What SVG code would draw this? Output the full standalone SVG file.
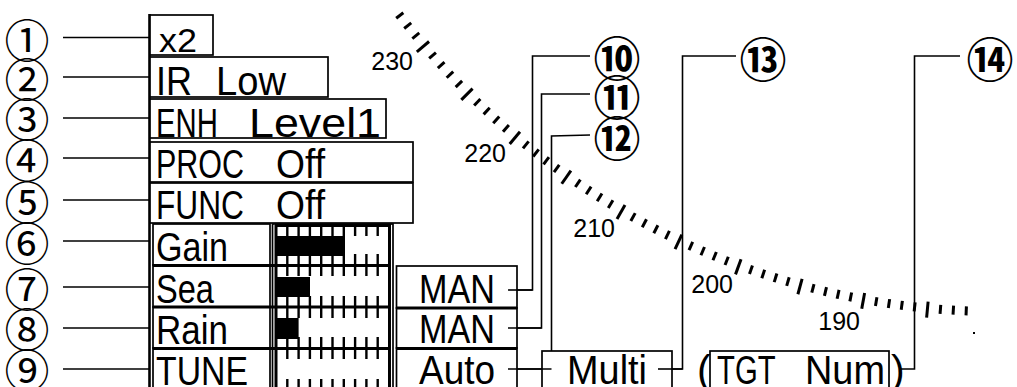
<svg xmlns="http://www.w3.org/2000/svg" width="1017" height="387" viewBox="0 0 1017 387">
<style>
.t{font-family:"Liberation Sans",Arial,sans-serif;font-size:41px;fill:#000}
.x2{font-size:33px}
.sc{font-family:"Liberation Sans",Arial,sans-serif;font-size:25px;fill:#000}
.n{font-family:"Noto Sans CJK JP","DejaVu Sans",sans-serif;font-size:45px;fill:#000;text-anchor:middle;dominant-baseline:central}
.nb{font-weight:bold;font-size:47px}
.box{fill:#fff;stroke:#000;stroke-width:1.7}
.ln{stroke:#000;stroke-width:1.6;fill:none}
.thk{stroke:#000;stroke-width:3;fill:none}
.tk{stroke:#000;stroke-width:2.4}
.rt{stroke:#000;stroke-width:3}
</style>
<defs>
<line id="s" x1="748" y1="0" x2="757" y2="0"/>
<line id="L" x1="746" y1="0" x2="762" y2="0"/>
<g id="tt">
<line x1="287.3" y1="0" x2="287.3" y2="11"/><line x1="298.6" y1="0" x2="298.6" y2="11"/><line x1="309.9" y1="0" x2="309.9" y2="11"/><line x1="321.2" y1="0" x2="321.2" y2="11"/><line x1="332.5" y1="0" x2="332.5" y2="11"/><line x1="343.8" y1="0" x2="343.8" y2="11"/><line x1="355.1" y1="0" x2="355.1" y2="11"/><line x1="366.4" y1="0" x2="366.4" y2="11"/><line x1="377.7" y1="0" x2="377.7" y2="11"/>
</g>
</defs>

<g id="range-scale" class="rt">
<g transform="translate(998 -441)">
<use href="#s" transform="rotate(92.42)"/><use href="#s" transform="rotate(93.405)"/><use href="#s" transform="rotate(94.39)"/><use href="#L" transform="rotate(95.375)"/>
<use href="#s" transform="rotate(96.36)"/><use href="#s" transform="rotate(97.345)"/><use href="#s" transform="rotate(98.33)"/><use href="#s" transform="rotate(99.315)"/><use href="#L" transform="rotate(100.3)"/>
<use href="#s" transform="rotate(101.285)"/><use href="#s" transform="rotate(102.27)"/><use href="#s" transform="rotate(103.255)"/><use href="#s" transform="rotate(104.24)"/><use href="#L" transform="rotate(105.225)"/>
<use href="#s" transform="rotate(106.21)"/><use href="#s" transform="rotate(107.195)"/><use href="#s" transform="rotate(108.18)"/><use href="#s" transform="rotate(109.165)"/><use href="#L" transform="rotate(110.15)"/>
<use href="#s" transform="rotate(111.135)"/><use href="#s" transform="rotate(112.12)"/><use href="#s" transform="rotate(113.105)"/><use href="#s" transform="rotate(114.09)"/><use href="#L" transform="rotate(115.075)"/>
<use href="#s" transform="rotate(116.06)"/><use href="#s" transform="rotate(117.045)"/><use href="#s" transform="rotate(118.03)"/><use href="#s" transform="rotate(119.015)"/><use href="#L" transform="rotate(120)"/>
<use href="#s" transform="rotate(120.985)"/><use href="#s" transform="rotate(121.97)"/><use href="#s" transform="rotate(122.955)"/><use href="#s" transform="rotate(123.94)"/><use href="#L" transform="rotate(124.925)"/>
<use href="#s" transform="rotate(125.91)"/><use href="#s" transform="rotate(126.895)"/><use href="#s" transform="rotate(127.88)"/><use href="#s" transform="rotate(128.865)"/><use href="#L" transform="rotate(129.85)"/>
<use href="#s" transform="rotate(130.835)"/><use href="#s" transform="rotate(131.82)"/><use href="#s" transform="rotate(132.805)"/><use href="#s" transform="rotate(133.79)"/><use href="#L" transform="rotate(134.775)"/>
<use href="#s" transform="rotate(135.76)"/><use href="#s" transform="rotate(136.745)"/><use href="#s" transform="rotate(137.73)"/><use href="#s" transform="rotate(138.715)"/><use href="#L" transform="rotate(139.7)"/>
<use href="#s" transform="rotate(140.685)"/><use href="#s" transform="rotate(141.67)"/><use href="#s" transform="rotate(142.655)"/>
</g>
<rect x="973" y="332" width="2" height="2" stroke="none" fill="#000"/>
<text class="sc" x="413" y="70" text-anchor="end" stroke="none">230</text>
<text class="sc" x="506" y="162" text-anchor="end" stroke="none">220</text>
<text class="sc" x="615" y="237" text-anchor="end" stroke="none">210</text>
<text class="sc" x="733" y="293" text-anchor="end" stroke="none">200</text>
<text class="sc" x="860" y="330" text-anchor="end" stroke="none">190</text>
</g>

<g id="connectors" class="ln">
<line x1="149.5" y1="14" x2="149.5" y2="387" stroke-width="2.6"/>
<line x1="63" y1="37.5" x2="150" y2="37.5"/>
<line x1="63" y1="77" x2="150" y2="77"/>
<line x1="63" y1="118" x2="150" y2="118"/>
<line x1="63" y1="158" x2="150" y2="158"/>
<line x1="63" y1="200" x2="150" y2="200"/>
<line x1="63" y1="241" x2="150" y2="241"/>
<line x1="63" y1="287" x2="150" y2="287"/>
<line x1="63" y1="328" x2="150" y2="328"/>
<line x1="63" y1="369" x2="150" y2="369"/>
<polyline points="508,290 532.5,290 532.5,56 590,56"/>
<polyline points="508,328 541.5,328 541.5,94 590,94"/>
<polyline points="508,369 551.5,369 551.5,136 590,135"/>
<polyline points="658,369 682.5,369 682.5,56 736,56"/>
<polyline points="900,369 914.5,369 914.5,56 960,56"/>
</g>

<g id="c1"><text class="n" x="27" y="38">①</text></g>
<g id="c2"><text class="n" x="27" y="77">②</text></g>
<g id="c3"><text class="n" x="27" y="117">③</text></g>
<g id="c4"><text class="n" x="27" y="158">④</text></g>
<g id="c5"><text class="n" x="27" y="200">⑤</text></g>
<g id="c6"><text class="n" x="27" y="241">⑥</text></g>
<g id="c7"><text class="n" x="27" y="287">⑦</text></g>
<g id="c8"><text class="n" x="27" y="327">⑧</text></g>
<g id="c9"><text class="n" x="27" y="368">⑨</text></g>
<g id="c10"><text class="n nb" x="617" y="55">⑩</text></g>
<g id="c11"><text class="n nb" x="617" y="94">⑪</text></g>
<g id="c12"><text class="n nb" x="617" y="135">⑫</text></g>
<g id="c13"><text class="n nb" x="763" y="56">⑬</text></g>
<g id="c14"><text class="n nb" x="990" y="56">⑭</text></g>

<g id="zoom"><rect class="box" x="150" y="15" width="63" height="40"/><text class="t x2" x="159" y="52" textLength="38" lengthAdjust="spacingAndGlyphs">x2</text></g>
<g id="ir"><rect class="box" x="150" y="57" width="178" height="40"/><text class="t" y="95"><tspan x="156" textLength="36" lengthAdjust="spacingAndGlyphs">IR</tspan> <tspan x="216" textLength="70" lengthAdjust="spacingAndGlyphs">Low</tspan></text></g>
<g id="enh"><rect class="box" x="150" y="99" width="236" height="39"/><text class="t" y="137"><tspan x="156" textLength="62" lengthAdjust="spacingAndGlyphs">ENH</tspan> <tspan x="249" textLength="132" lengthAdjust="spacingAndGlyphs">Level1</tspan></text></g>
<g id="proc"><rect class="box" x="150" y="142" width="263" height="40"/><text class="t" y="178"><tspan x="156" textLength="88" lengthAdjust="spacingAndGlyphs">PROC</tspan> <tspan x="276" textLength="49" lengthAdjust="spacingAndGlyphs">Off</tspan></text></g>
<g id="func"><rect class="box" x="150" y="183" width="263" height="40"/><text class="t" y="219"><tspan x="156" textLength="88" lengthAdjust="spacingAndGlyphs">FUNC</tspan> <tspan x="276" textLength="49" lengthAdjust="spacingAndGlyphs">Off</tspan></text></g>

<g id="gain"><rect class="box" x="153" y="224" width="117" height="41"/><text class="t" x="156" y="261" textLength="72" lengthAdjust="spacingAndGlyphs">Gain</text></g>
<g id="sea"><rect class="box" x="153" y="265" width="117" height="42"/><text class="t" x="156" y="303" textLength="58" lengthAdjust="spacingAndGlyphs">Sea</text></g>
<g id="rain"><rect class="box" x="153" y="307" width="117" height="41"/><text class="t" x="156" y="344" textLength="72" lengthAdjust="spacingAndGlyphs">Rain</text></g>
<g id="tune"><rect class="box" x="153" y="348" width="117" height="42"/><text class="t" x="156" y="385" textLength="92" lengthAdjust="spacingAndGlyphs">TUNE</text></g>

<g id="bars">
<rect class="box" x="272.5" y="224" width="120.5" height="166"/>
<rect x="276" y="236" width="69" height="20" fill="#000"/>
<rect x="276" y="277" width="34" height="20" fill="#000"/>
<rect x="276" y="318" width="22.6" height="21" fill="#000"/>
<g class="tk">
<use href="#tt" transform="translate(0 225)"/><use href="#tt" transform="translate(0 254)"/>
<use href="#tt" transform="translate(0 265)"/><use href="#tt" transform="translate(0 296)"/>
<use href="#tt" transform="translate(0 307)"/><use href="#tt" transform="translate(0 337)"/>
<use href="#tt" transform="translate(0 348)"/><use href="#tt" transform="translate(0 379)"/>
</g>
<line class="thk" x1="276" y1="225" x2="276" y2="390" stroke-width="2.6"/>
<line class="thk" x1="389.5" y1="225" x2="389.5" y2="390" stroke-width="2.6"/>
<line class="thk" x1="275" y1="225.5" x2="391" y2="225.5" stroke-width="2.4"/>
<line class="thk" x1="153" y1="265.5" x2="391" y2="265.5"/>
<line class="thk" x1="153" y1="307" x2="391" y2="307"/>
<line class="thk" x1="153" y1="348.5" x2="391" y2="348.5"/>
</g>

<g id="sea-mode"><rect class="box" x="396.5" y="266" width="120.5" height="42"/><text class="t" x="419" y="303" textLength="76" lengthAdjust="spacingAndGlyphs">MAN</text></g>
<g id="rain-mode"><rect class="box" x="396.5" y="308" width="120.5" height="40"/><text class="t" x="419" y="343" textLength="76" lengthAdjust="spacingAndGlyphs">MAN</text></g>
<g id="tune-mode"><rect class="box" x="396.5" y="348" width="120.5" height="42"/><text class="t" x="419" y="384" textLength="76" lengthAdjust="spacingAndGlyphs">Auto</text></g>
<line class="thk" x1="396" y1="308" x2="517" y2="308"/>
<line class="thk" x1="396" y1="348.5" x2="517" y2="348.5"/>
<g id="multi"><rect class="box" x="542" y="351" width="130" height="40"/><text class="t" x="567" y="384" textLength="80" lengthAdjust="spacingAndGlyphs">Multi</text></g>
<g id="tgt"><rect class="box" x="710" y="351" width="179" height="40"/><text class="t" y="384"><tspan x="697">(</tspan><tspan x="717" textLength="58" lengthAdjust="spacingAndGlyphs">TGT</tspan> <tspan x="805" textLength="80" lengthAdjust="spacingAndGlyphs">Num</tspan><tspan x="891">)</tspan></text></g>
<g id="conn-overlay" class="ln">
<line x1="508" y1="290" x2="532.5" y2="290"/>
<line x1="508" y1="328" x2="541.5" y2="328"/>
<line x1="508" y1="369" x2="551.5" y2="369"/>
<line x1="658" y1="369" x2="682.5" y2="369"/>
</g>
</svg>
